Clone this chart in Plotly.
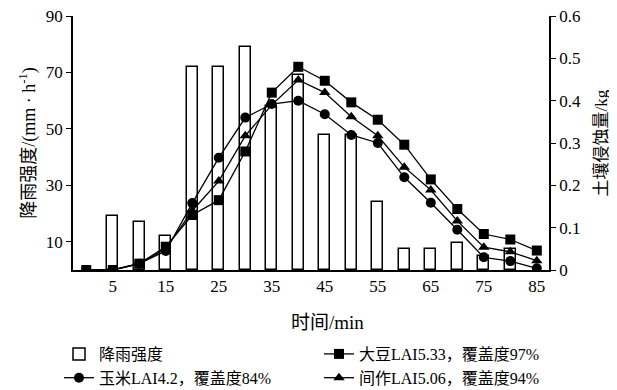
import plotly.graph_objects as go

time_min = [0, 5, 10, 15, 20, 25, 30, 35, 40, 45, 50, 55, 60, 65, 70, 75, 80, 85]
bar_time = [5, 10, 15, 20, 25, 30, 35, 40, 45, 50, 55, 60, 65, 70, 75, 80]
rain_intensity = [19, 17, 12, 72, 72, 79, 58, 69, 48, 48, 24, 7.5, 7.5, 9.7, 5, 7.5]

soybean = [0, 0, 0.015, 0.055, 0.13, 0.165, 0.28, 0.419, 0.48, 0.447, 0.396, 0.355, 0.296, 0.214, 0.144, 0.085, 0.072, 0.046]
maize = [0, 0, 0.015, 0.045, 0.158, 0.265, 0.36, 0.392, 0.40, 0.368, 0.319, 0.30, 0.219, 0.159, 0.095, 0.03, 0.021, 0.004]
intercrop = [0, 0, 0.015, 0.05, 0.14, 0.21, 0.317, 0.39, 0.449, 0.419, 0.362, 0.317, 0.243, 0.189, 0.116, 0.054, 0.043, 0.022]

names = ["降雨强度", "大豆LAI5.33，覆盖度97%", "玉米LAI4.2，覆盖度84%", "间作LAI5.06，覆盖度94%"]

x_ticks = [5, 15, 25, 35, 45, 55, 65, 75, 85]
left_ticks = [10, 30, 50, 70, 90]
right_ticks = [0, 0.1, 0.2, 0.3, 0.4, 0.5, 0.6]
right_labels = ["0", "0.1", "0.2", "0.3", "0.4", "0.5", "0.6"]

FONT = "Liberation Serif, Times New Roman, Noto Sans CJK SC, serif"

fig = go.Figure()
fig.add_trace(go.Bar(
    x=bar_time, y=rain_intensity, name=names[0], width=2.1,
    marker=dict(color="white", line=dict(color="black", width=1.5)),
    yaxis="y",
))
line_style = dict(color="black", width=1.3)
fig.add_trace(go.Scatter(
    x=time_min, y=soybean, name=names[1], mode="lines+markers", yaxis="y2",
    line=line_style, marker=dict(symbol="square", size=10, color="black"),
))
fig.add_trace(go.Scatter(
    x=time_min, y=maize, name=names[2], mode="lines+markers", yaxis="y2",
    line=line_style, marker=dict(symbol="circle", size=10, color="black"),
))
fig.add_trace(go.Scatter(
    x=time_min, y=intercrop, name=names[3], mode="lines+markers", yaxis="y2",
    line=line_style, marker=dict(symbol="triangle-up", size=10, color="black"),
))

fig.update_layout(
    width=609, height=382,
    margin=dict(l=65, r=68, t=8, b=120, autoexpand=False),
    paper_bgcolor="white", plot_bgcolor="white",
    font=dict(family=FONT, size=16, color="black"),
    bargap=0,
    xaxis=dict(
        range=[-2.5, 87.3], tickvals=x_ticks, showgrid=False, zeroline=False,
        showline=True, linecolor="black", linewidth=1.5, ticks="",
        tickfont=dict(size=17), automargin=False, ticklabeloverflow="allow",
    ),
    yaxis=dict(
        range=[0, 90], tickvals=left_ticks, showgrid=False, zeroline=False,
        showline=True, linecolor="black", linewidth=1.5, ticks="outside",
        ticklen=5, tickcolor="black", tickfont=dict(size=17), automargin=False,
        ticklabeloverflow="allow",
        title=dict(text="降雨强度/(mm · h<sup>-1</sup>)", font=dict(size=18), standoff=6),
    ),
    yaxis2=dict(
        range=[0, 0.6], tickvals=right_ticks, ticktext=right_labels,
        overlaying="y", side="right", showgrid=False, zeroline=False,
        showline=True, linecolor="black", linewidth=1.5, ticks="outside",
        ticklen=5, tickcolor="black", tickfont=dict(size=17), automargin=False,
        ticklabeloverflow="allow",
        title=dict(text="土壤侵蚀量/kg", font=dict(size=17), standoff=15),
    ),
    legend=dict(
        orientation="h", x=(59 - 73) / 476, xanchor="left", y=(270 - 337) / 254, yanchor="top",
        entrywidth=215, entrywidthmode="pixels", font=dict(size=16),
        traceorder="normal", itemwidth=30, tracegroupgap=0,
    ),
    showlegend=True,
    annotations=[dict(
        text="时间/min", xref="paper", yref="paper", x=(327 - 73) / 476, y=(270 - 322) / 254,
        xanchor="center", yanchor="middle", showarrow=False, font=dict(size=19),
    )],
)

fig.write_html("out.html")
